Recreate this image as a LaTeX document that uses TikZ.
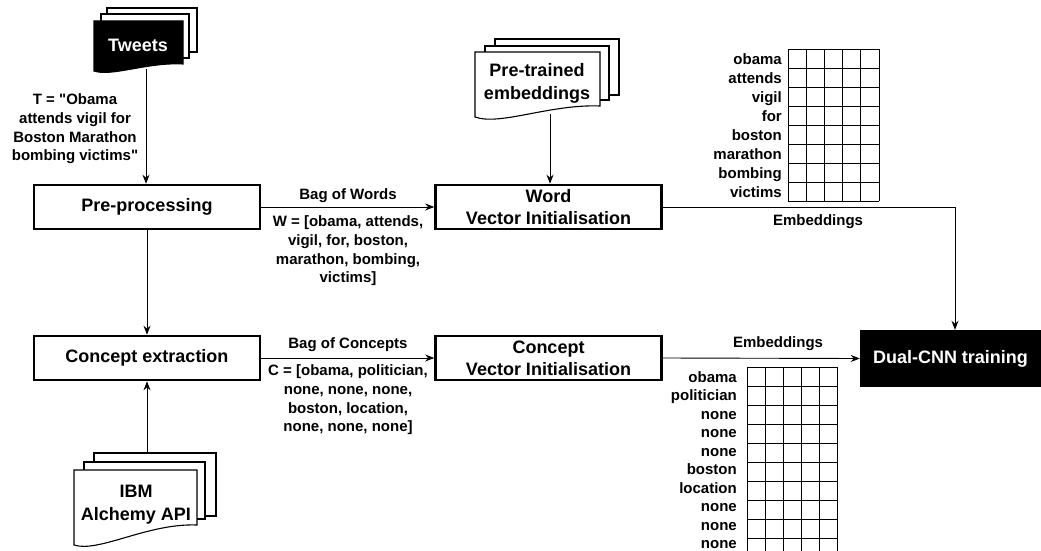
\documentclass[tikz,border=0pt]{standalone}
\usepackage{fontspec}
\setmainfont{Liberation Sans}[Ligatures=TeXOff]
\usetikzlibrary{arrows.meta}
\newcommand\docfront[7]{% style, x1, top, x2, yL, yR, dip
  \draw[#1] (#2,#3) -- (#4,#3) -- (#4,#6) .. controls ({#4-0.4*(#4-#2)},{#6-2}) and ({#2+0.2*(#4-#2)},{#5+#7}) .. (#2,#5) -- cycle;}
\begin{document}
\begin{tikzpicture}[x=1pt,y=-1pt,
  box/.style={draw, line width=2.6pt, minimum width=226pt, minimum height=44pt, inner sep=0pt, font=\bfseries\fontsize{18}{22}\selectfont, align=center},
  lbl/.style={font=\bfseries\fontsize{15}{18.7}\selectfont, align=center, inner sep=0pt},
  doctext/.style={font=\bfseries\fontsize{18}{23}\selectfont, align=center, inner sep=0pt},
  arr/.style={-{Stealth[length=9pt,width=7pt]}, line width=0.9pt},
  page/.style={draw, fill=white, line width=1.1pt},
  blackpage/.style={draw, fill=black, line width=1.1pt},
  gridl/.style={line width=0.8pt},
  cell/.style={font=\bfseries\fontsize{15}{18}\selectfont, anchor=base east, inner sep=0pt}
]
\useasboundingbox (0,0) rectangle (1041,551);
\clip (0,0) rectangle (1041,551);

% Tweets document stack
\draw[page] (107,8) rectangle (197,52);
\draw[page] (101,14) rectangle (189,58);
\docfront{blackpage}{94}{21}{183}{71}{64}{6}
\node[doctext, text=white] (tweets) at (138,45) {Tweets};

% Pre-trained embeddings stack
\draw[page] (495,39) rectangle (619,95);
\draw[page] (485,46) rectangle (609,100);
\docfront{page}{475}{52}{600}{117}{106}{9}
\node[doctext] (ptemb) at (537,83) {Pre-trained\\embeddings};

% IBM stack
\draw[page] (94,453) rectangle (216,516);
\draw[page] (84,462) rectangle (205,519);
\docfront{page}{74}{470}{197}{545}{525}{8}
\node[doctext] (ibm) at (136,505) {IBM\\Alchemy API};

% boxes
\node[box] (pre) at (147,207) {Pre-processing};
\node[box] (wvi) at (548.5,207) {Word\\Vector Initialisation};
\node[box] (ce) at (147,358) {Concept extraction};
\node[box] (cvi) at (548.5,358) {Concept\\Vector Initialisation};
\node[fill=black, text=white, minimum width=181pt, minimum height=57pt, inner sep=0pt,
      font=\bfseries\fontsize{18}{22}\selectfont] (cnn) at (950.5,358.5) {Dual-CNN training};

% coordinates
\coordinate (tw-b) at (146,69);
\coordinate (pt-b) at (550,114);
\coordinate (ibm-t) at (147,453);
\coordinate (emb-c) at (955,207);

% connectors
\draw[arr] (tw-b) -- (tw-b |- pre.north);
\draw[arr] (pt-b) -- (pt-b |- wvi.north);
\draw[arr] (pre.south) -- (ce.north);
\draw[arr] (ibm-t) -- (ibm-t |- ce.south);
\draw[arr] (pre.east) -- (wvi.west);
\draw[arr] (ce.east) -- (cvi.west);
\draw[arr] (wvi.east) -- (emb-c) -- (emb-c |- cnn.north);
\draw[arr] (cvi.east) -- (cnn.west);

% labels
\node[lbl] (tlbl) at (75,129) {T = "Obama\\attends vigil for\\Boston Marathon\\bombing victims"};
\node[lbl] (bow) at (348,196) {Bag of Words};
\node[lbl] (wl) at (348,251) {W = [obama, attends,\\vigil, for, boston,\\marathon, bombing,\\victims]};
\node[lbl] (boc) at (348,345) {Bag of Concepts};
\node[lbl] (cl) at (348,400) {C = [obama, politician,\\none, none, none,\\boston, location,\\none, none, none]};
\node[lbl] (e1) at (818,222) {Embeddings};
\node[lbl] (e2) at (778,344) {Embeddings};

% upper grid
\foreach \i in {0,...,5} \draw[gridl] ({788+\i*18.2},49) -- ({788+\i*18.2},201);
\foreach \j in {0,...,8} \draw[gridl] (788,{49+19*\j}) -- (879,{49+19*\j});
\foreach \w [count=\i from 0] in {obama,attends,vigil,for,boston,marathon,bombing,victims}
  \node[cell] (u\i) at (782,{49+19*\i+15}) {\w};

% lower grid
\foreach \i in {0,...,5} \draw[gridl] ({747+\i*18},367) -- ({747+\i*18},560);
\foreach \j in {0,...,10} \draw[gridl] (747,{367+19*\j}) -- (837,{367+19*\j});
\foreach \w [count=\i from 0] in {obama,politician,none,none,none,boston,location,none,none,none}
  \node[cell] (l\i) at (737,{367+18.55*\i+15}) {\w};
\end{tikzpicture}
\end{document}
